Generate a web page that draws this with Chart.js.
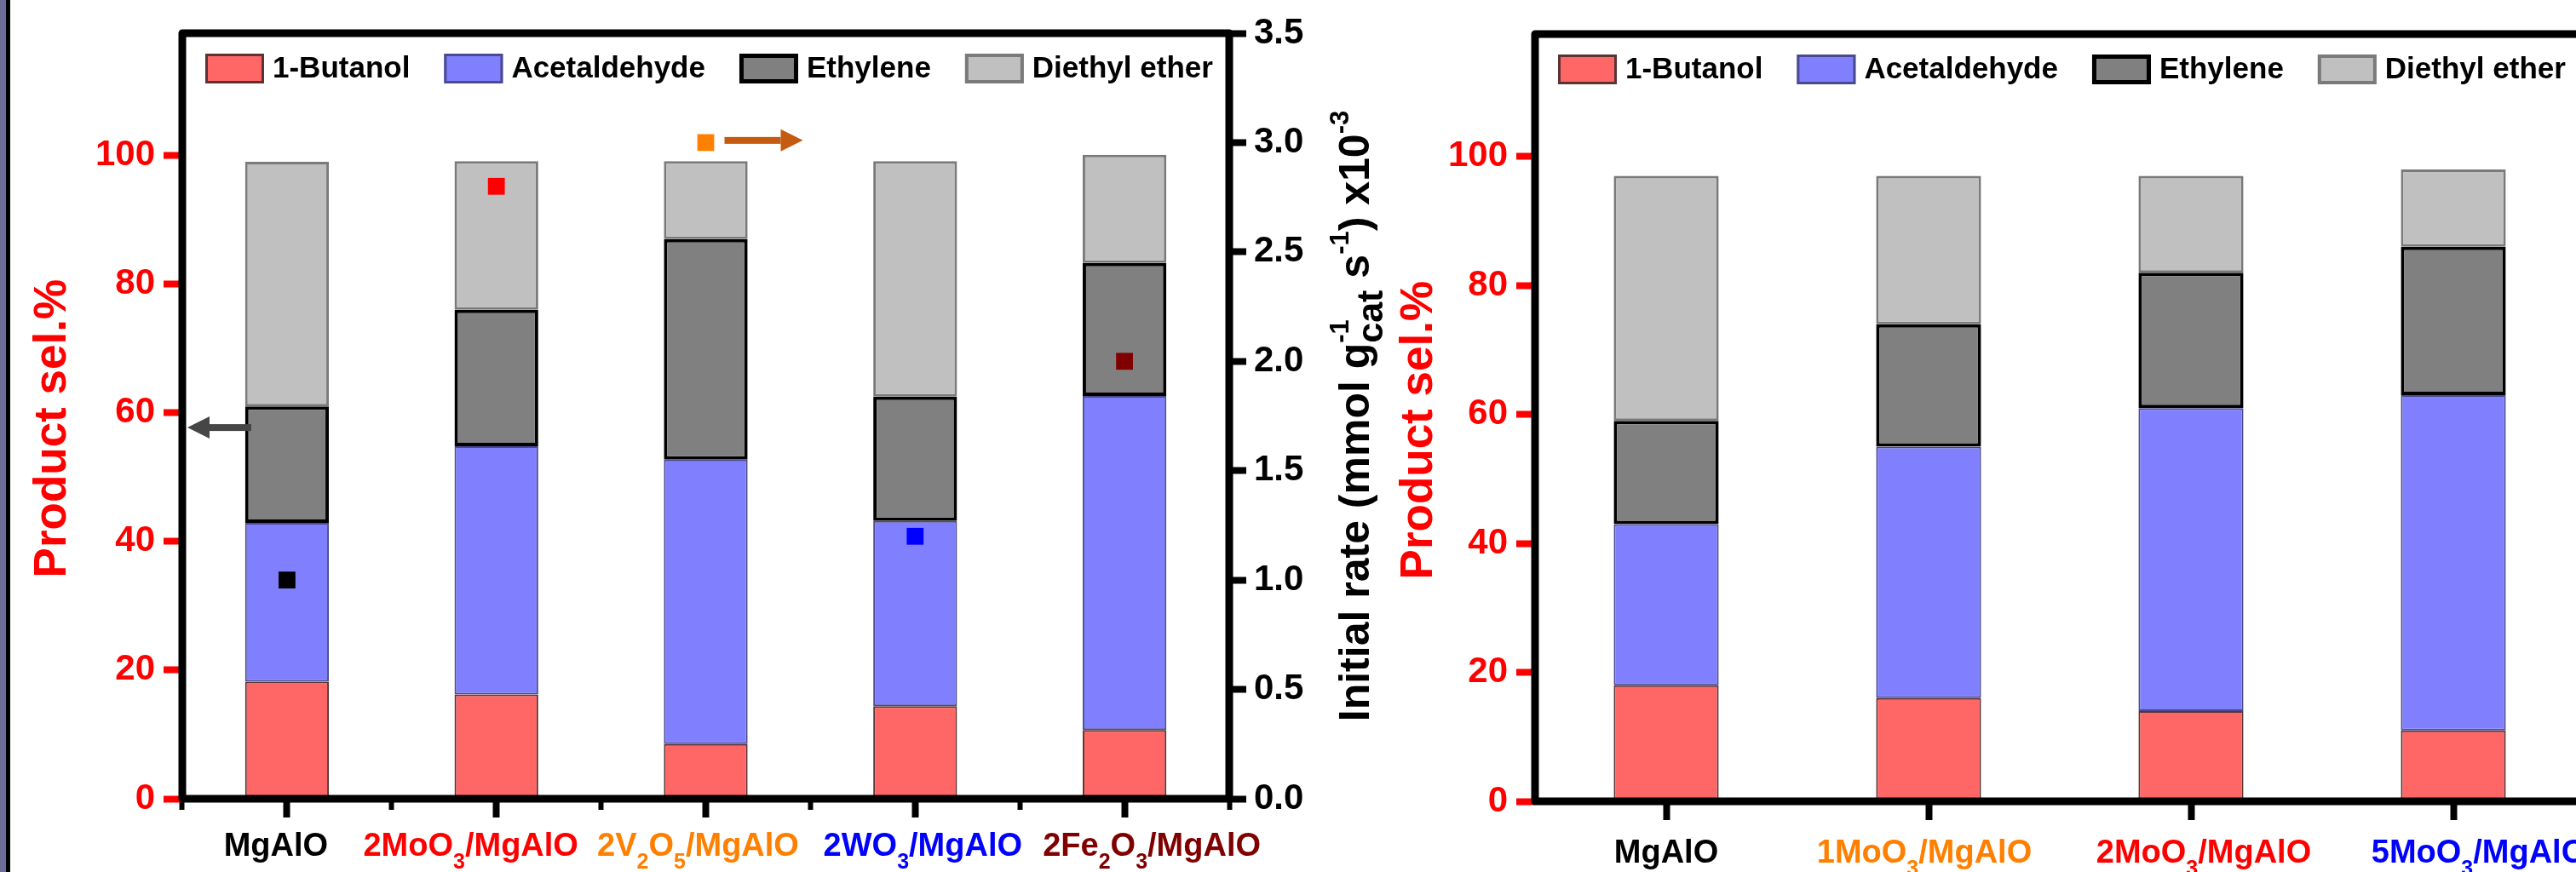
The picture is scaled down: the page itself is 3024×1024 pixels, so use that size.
<!DOCTYPE html>
<html lang="en">
<head>
<meta charset="UTF-8">
<title>Product selectivity and initial rate</title>
<script src="https://cdn.jsdelivr.net/npm/chart.js"></script>
<style>
  html, body { margin: 0; padding: 0; width: 3024px; height: 1024px; overflow: hidden; background: #fff; }
  #strip { position: absolute; left: 0; top: 0; width: 7px; height: 1024px; background: #6e6e98; border-right: 5px solid #000; }
  #left { position: absolute; left: 0; top: 0; }
  #right { position: absolute; left: 1540px; top: 0; }
</style>
</head>
<body>
<div id="strip"></div>
<canvas id="left" width="1640" height="1024"></canvas>
<canvas id="right" width="1560" height="1024"></canvas>

<script>
// ---- data: left panel (different oxides) ----
const catsA = ['MgAlO', '2MoO3/MgAlO', '2V2O5/MgAlO', '2WO3/MgAlO', '2Fe2O3/MgAlO'];
const butanolA  = [18.2, 16.2, 8.5, 14.4, 10.7];
const acetA     = [24.7, 38.6, 44.2, 28.8, 51.9];
const ethyleneA = [18.1, 21.2, 34.3, 19.3, 20.7];
const etherA    = [38.0, 23.1, 12.1, 36.6, 16.8];
const rateA     = [1.0, 2.8, 3.0, 1.2, 2.0];   // x10^-3 mmol g-1 s-1

// ---- data: right panel (MoO3 loading) ----
const catsB = ['MgAlO', '1MoO3/MgAlO', '2MoO3/MgAlO', '5MoO3/MgAlO'];
const butanolB  = [18, 16, 14, 11];
const acetB     = [25, 39, 47, 52];
const ethyleneB = [16, 19, 21, 23];
const etherB    = [38, 23, 15, 12];

// ---- tick values ----
const selTicks  = [0, 20, 40, 60, 80, 100];
const rateTicks = [0, 0.5, 1.0, 1.5, 2.0, 2.5, 3.0, 3.5];

// label / marker colours
const colorsA = ['#000000', '#ff0000', '#ff8000', '#0000ff', '#800000'];
const colorsB = ['#000000', '#ff8000', '#ff0000', '#0000ff'];

const FONT = '"Liberation Sans", Arial, Helvetica, sans-serif';
Chart.defaults.font.family = FONT;
Chart.defaults.font.weight = 'bold';

function barSets(b, a, e, d) {
  return [
    { label: '1-Butanol', data: b, backgroundColor: '#ff6666', borderColor: '#5a3333', borderWidth: 2 },
    { label: 'Acetaldehyde', data: a, backgroundColor: '#8080ff', borderColor: '#4a4a90', borderWidth: 2 },
    { label: 'Ethylene', data: e, backgroundColor: '#808080', borderColor: '#000000', borderWidth: 4 },
    { label: 'Diethyl ether', data: d, backgroundColor: '#c0c0c0', borderColor: '#7a7a7a', borderWidth: 3 }
  ].map(ds => Object.assign(ds, { order: 1, borderSkipped: false, barPercentage: 0.4, categoryPercentage: 1 }));
}

// frame around the plot
const frame = {
  id: 'frame',
  afterDatasetsDraw(chart) {
    const { ctx, chartArea: a } = chart;
    ctx.save();
    ctx.lineWidth = 9;
    ctx.lineJoin = 'round';
    ctx.strokeStyle = '#000';
    ctx.strokeRect(a.left, a.top, a.right - a.left, a.bottom - a.top);
    ctx.restore();
  }
};

// legend inside the frame
const boxLegend = {
  id: 'boxLegend',
  afterDatasetsDraw(chart) {
    const { ctx, chartArea: a } = chart;
    ctx.save();
    ctx.font = 'bold 35px ' + FONT;
    ctx.textBaseline = 'middle';
    ctx.textAlign = 'left';
    let x = a.left + 27;
    const yc = a.top + 41;
    chart.data.datasets.forEach(ds => {
      if (ds.type === 'line') return;
      const bw = ds.borderWidth + 1;
      ctx.fillStyle = ds.backgroundColor;
      ctx.fillRect(x, yc - 17, 69, 35);
      ctx.strokeStyle = ds.borderColor;
      ctx.lineWidth = bw;
      ctx.strokeRect(x + bw / 2, yc - 17 + bw / 2, 69 - bw, 35 - bw);
      ctx.fillStyle = '#000';
      ctx.fillText(ds.label, x + 79, yc + 1);
      x += 79 + ctx.measureText(ds.label).width + 40;
    });
    ctx.restore();
  }
};

// category labels with chemical subscripts
function splitFormula(s) {
  const parts = [];
  for (let i = 0; i < s.length; i++) {
    const c = s[i];
    const prev = parts.length ? parts[parts.length - 1] : null;
    const sub = /\d/.test(c) && i > 0 && (/[A-Za-z]/.test(s[i - 1]) || (prev && prev.sub));
    if (prev && prev.sub === sub) prev.t += c; else parts.push({ t: c, sub });
  }
  return parts;
}
function drawFormula(ctx, s, cx, by, color) {
  const parts = splitFormula(s);
  const fMain = 'bold 38px ' + FONT, fSub = 'bold 25px ' + FONT;
  ctx.save();
  ctx.fillStyle = color;
  ctx.textBaseline = 'alphabetic';
  ctx.textAlign = 'left';
  let w = 0;
  parts.forEach(p => { ctx.font = p.sub ? fSub : fMain; p.w = ctx.measureText(p.t).width; w += p.w; });
  let x = cx - w / 2;
  parts.forEach(p => {
    ctx.font = p.sub ? fSub : fMain;
    ctx.fillText(p.t, x, by + (p.sub ? 15 : 0));
    x += p.w;
  });
  ctx.restore();
}
const richTicks = {
  id: 'richTicks',
  afterDraw(chart, args, opts) {
    const sx = chart.scales.x;
    chart.data.labels.forEach((lab, i) => {
      drawFormula(chart.ctx, lab, sx.getPixelForValue(i) + opts.offsets[i],
        chart.chartArea.bottom + opts.baseline, opts.colors[i]);
    });
  }
};

// arrows pointing to the axes
function arrow(ctx, tail, tip, y, color) {
  const dir = Math.sign(tip - tail), head = 26, half = 13, shaft = 8;
  const base = tip - dir * head;
  ctx.fillStyle = color;
  ctx.fillRect(Math.min(tail, base), y - shaft / 2, Math.abs(base - tail), shaft);
  ctx.beginPath();
  ctx.moveTo(tip, y);
  ctx.lineTo(base, y - half);
  ctx.lineTo(base, y + half);
  ctx.closePath();
  ctx.fill();
}
const arrows = {
  id: 'arrows',
  afterDatasetsDraw(chart) {
    const { ctx, chartArea: a, scales } = chart;
    ctx.save();
    arrow(ctx, a.left + 81, a.left + 6, scales.y.getPixelForValue(57.7), '#464646');
    const x2 = scales.x.getPixelForValue(2);
    arrow(ctx, x2 + 22, x2 + 114, scales.y2.getPixelForValue(3.01), '#c55a11');
    ctx.restore();
  }
};

// right axis title with super/subscripts
const rateTitle = {
  id: 'rateTitle',
  afterDraw(chart) {
    const { ctx, chartArea: a } = chart;
    const s = chart.scales.y2;
    const segs = [
      [{ t: 'Initial rate (mmol g', f: 50, dy: 0 }],
      [{ t: '-1', f: 31, dy: -24 }, { t: 'cat', f: 43, dy: 16 }],
      [{ t: ' s', f: 50, dy: 0 }],
      [{ t: '-1', f: 31, dy: -24 }],
      [{ t: ') x10', f: 50, dy: 0 }],
      [{ t: '-3', f: 31, dy: -24 }]
    ];
    ctx.save();
    ctx.translate(s.left + 164, (a.top + a.bottom) / 2);
    ctx.rotate(-Math.PI / 2);
    ctx.fillStyle = '#000';
    ctx.textBaseline = 'alphabetic';
    ctx.textAlign = 'left';
    let total = 0;
    segs.forEach(g => {
      g.w = 0;
      g.forEach(p => { ctx.font = 'bold ' + p.f + 'px ' + FONT; g.w = Math.max(g.w, ctx.measureText(p.t).width); });
      total += g.w;
    });
    let x = -total / 2;
    segs.forEach(g => {
      g.forEach(p => { ctx.font = 'bold ' + p.f + 'px ' + FONT; ctx.fillText(p.t, x, p.dy); });
      x += g.w;
    });
    ctx.restore();
  }
};

function selAxis(width, padTop) {
  return {
    position: 'left', stacked: true, min: 0, max: 119,
    afterBuildTicks: sc => { sc.ticks = selTicks.map(v => ({ value: v })); },
    afterFit: sc => { sc.width = width; },
    ticks: { color: '#ff0000', font: { size: 42, weight: 'bold' }, padding: 10 },
    grid: { drawOnChartArea: false, tickLength: 22, tickWidth: 8, tickColor: '#ff0000' },
    border: { display: false },
    title: { display: true, text: 'Product sel.%  ', color: '#ff0000',
             font: { size: 53, weight: 'bold' }, padding: { top: padTop, bottom: 0 } }
  };
}
function catAxis(height) {
  return {
    stacked: true, offset: true, weight: 1,
    afterFit: sc => { sc.height = height; },
    ticks: { display: false },
    grid: { offset: false, drawOnChartArea: false, tickLength: 22, tickWidth: 8, tickColor: '#000' },
    border: { display: false }
  };
}

// ---- left chart ----
new Chart(document.getElementById('left'), {
  type: 'bar',
  data: {
    labels: catsA,
    datasets: [
      { type: 'line', label: 'Initial rate', data: rateA, yAxisID: 'y2', showLine: false,
        pointStyle: 'rect', pointRadius: 14, pointHoverRadius: 14, pointBorderWidth: 0,
        pointBackgroundColor: colorsA, pointBorderColor: colorsA, order: 0 },
      ...barSets(butanolA, acetA, ethyleneA, etherA)
    ]
  },
  options: {
    responsive: false, animation: false,
    layout: { padding: { top: 39, left: 0, right: 0, bottom: 0 } },
    plugins: {
      legend: { display: false }, tooltip: { enabled: false },
      richTicks: { colors: colorsA, offsets: [-13, -30, -9, 9, 32], baseline: 67 }
    },
    scales: {
      x: catAxis(86),
      xm: {
        type: 'category', position: 'bottom', offset: true, weight: 0,
        afterFit: sc => { sc.height = 0; },
        ticks: { display: false },
        grid: { offset: true, drawOnChartArea: false, tickLength: 13, tickWidth: 6, tickColor: '#000' },
        border: { display: false }
      },
      y: selAxis(214, 31),
      y2: {
        position: 'right', min: 0, max: 3.5,
        afterBuildTicks: sc => { sc.ticks = rateTicks.map(v => ({ value: v })); },
        afterFit: sc => { sc.width = 197; },
        ticks: { color: '#000', font: { size: 42, weight: 'bold' }, padding: 9,
                 callback: v => v.toFixed(1) },
        grid: { drawOnChartArea: false, tickLength: 20, tickWidth: 8, tickColor: '#000' },
        border: { display: false }
      }
    }
  },
  plugins: [frame, boxLegend, richTicks, arrows, rateTitle]
});

// ---- right chart ----
new Chart(document.getElementById('right'), {
  type: 'bar',
  data: {
    labels: catsB,
    datasets: barSets(butanolB, acetB, ethyleneB, etherB)
  },
  options: {
    responsive: false, animation: false,
    layout: { padding: { top: 40, left: 0, right: 66, bottom: 0 } },
    plugins: {
      legend: { display: false }, tooltip: { enabled: false },
      richTicks: { colors: colorsB, offsets: [0, -5, 15, 30], baseline: 72 }
    },
    scales: {
      x: catAxis(83),
      y: selAxis(262, 95)
    }
  },
  plugins: [frame, boxLegend, richTicks]
});
</script>
</body>
</html>
